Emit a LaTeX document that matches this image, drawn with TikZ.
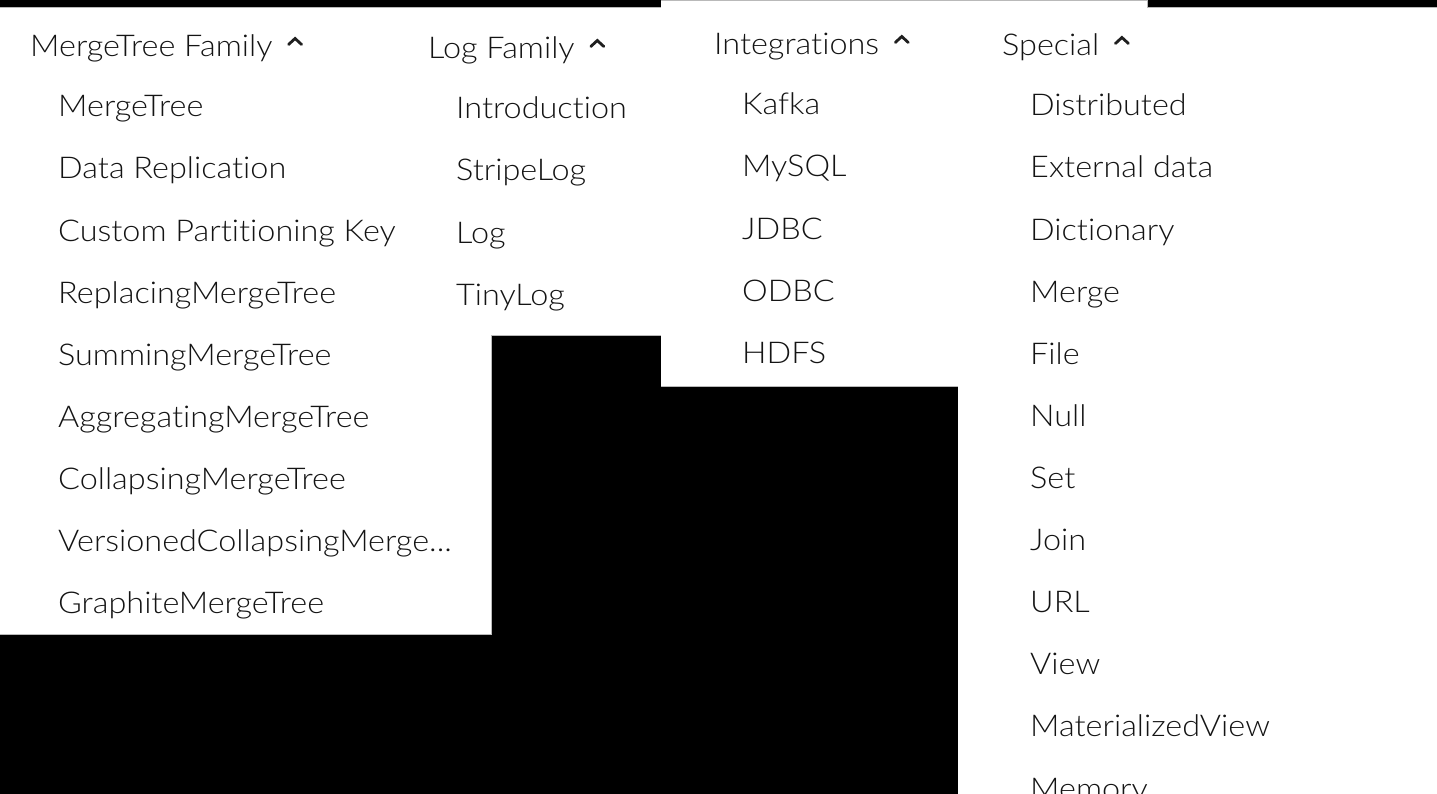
\documentclass[tikz,border=0pt]{standalone}
\usepackage{fontspec}
\setmainfont{Lato Light}[FakeStretch=1.08, Ligatures=NoCommon]
\usepackage{tikz}
\usetikzlibrary{positioning, calc}
\tikzset{
  menutext/.style={inner sep=0pt, text height=23pt, text depth=7pt,
                   text=black!92, font=\fontsize{30}{36}\selectfont},
  hdr/.style={menutext, anchor=base west},
  item/.style={menutext, anchor=north west},
  first/.style={below=30pt of #1.south west, item, xshift=28pt},
  next/.style={below=of #1.south west, item},
  chev/.style={draw=black!88, line width=2.8pt, line cap=round},
  panel/.style={fill=white, draw=gray!55, line width=1pt},
  panelfill/.style={fill=white},
}

\begin{document}
\begin{tikzpicture}[x=1pt, y=-1pt, node distance=31.7pt]

  \useasboundingbox (0,0) rectangle (1437,794);
  \clip (0,0) rectangle (1437,794);
  \fill[black] (0,0) rectangle (1437,794);

  % menu panels: borders first, fills after, so only outer edges stay
  \foreach \sty in {panel, panelfill}
    \foreach \xa/\ya/\xb/\yb in {0/8/491/634, 400/8/661/335,
                                  661/1/1147/386, 958/8/1437/800}
      \path[\sty] (\xa,\ya) rectangle (\xb,\yb);

  % MergeTree family
  \node[hdr] (hMT) at (30,56.5) {MergeTree Family};
  \node[first=hMT] (mt1) {MergeTree};
  \node[next=mt1]  (mt2) {Data Replication};
  \node[next=mt2]  (mt3) {Custom Partitioning Key};
  \node[next=mt3]  (mt4) {ReplacingMergeTree};
  \node[next=mt4]  (mt5) {SummingMergeTree};
  \node[next=mt5]  (mt6) {AggregatingMergeTree};
  \node[next=mt6]  (mt7) {CollapsingMergeTree};
  \node[next=mt7]  (mt8) {VersionedCollapsingMerge...};
  \node[next=mt8]  (mt9) {GraphiteMergeTree};

  % Log family
  \node[hdr] (hLog) at (428,58.5) {Log Family};
  \node[first=hLog] (lg1) {Introduction};
  \node[next=lg1]   (lg2) {StripeLog};
  \node[next=lg2]   (lg3) {Log};
  \node[next=lg3]   (lg4) {TinyLog};

  % Integrations
  \node[hdr] (hInt) at (714,54.5) {Integrations};
  \node[first=hInt] (in1) {Kafka};
  \node[next=in1]   (in2) {MySQL};
  \node[next=in2]   (in3) {JDBC};
  \node[next=in3]   (in4) {ODBC};
  \node[next=in4]   (in5) {HDFS};

  % Special
  \node[hdr] (hSp) at (1002,55.5) {Special};
  \node[first=hSp] (sp1)  {Distributed};
  \node[next=sp1]  (sp2)  {External data};
  \node[next=sp2]  (sp3)  {Dictionary};
  \node[next=sp3]  (sp4)  {Merge};
  \node[next=sp4]  (sp5)  {File};
  \node[next=sp5]  (sp6)  {Null};
  \node[next=sp6]  (sp7)  {Set};
  \node[next=sp7]  (sp8)  {Join};
  \node[next=sp8]  (sp9)  {URL};
  \node[next=sp9]  (sp10) {View};
  \node[next=sp10] (sp11) {MaterializedView};
  \node[next=sp11] (sp12) {Memory};

  % collapse chevrons
  \foreach \h in {hMT, hLog, hInt, hSp}
    \draw[chev] ($(\h.base east)+(16,-12)$) -- ++(6.5,-6) -- ++(6.5,6);

\end{tikzpicture}
\end{document}
